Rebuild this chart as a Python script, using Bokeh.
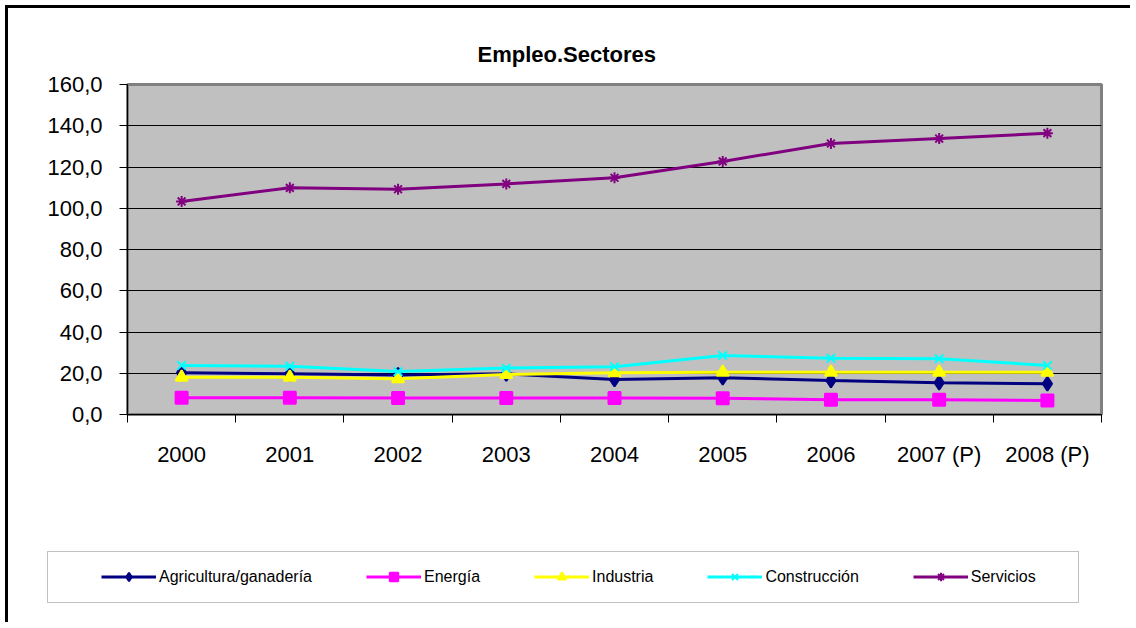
from bokeh.plotting import figure
from bokeh.models import FixedTicker, Legend, LegendItem, Range1d, BoxAnnotation
from bokeh.embed import file_html
from bokeh.resources import INLINE

FONT = "Liberation Sans"

# ---- data ----
years = ["2000", "2001", "2002", "2003", "2004", "2005", "2006", "2007 (P)", "2008 (P)"]
agricultura = [20.2, 19.7, 19.2, 19.7, 17.0, 17.8, 16.5, 15.4, 14.9]
energia = [8.1, 8.1, 8.0, 8.0, 8.0, 7.9, 7.1, 7.1, 6.8]
industria = [18.1, 18.1, 17.3, 19.4, 20.2, 20.5, 20.5, 20.5, 20.5]
construccion = [23.8, 23.4, 20.8, 22.5, 23.2, 28.6, 27.3, 27.0, 23.8]
servicios = [103.3, 109.9, 109.2, 111.8, 114.8, 122.7, 131.4, 133.8, 136.4]
y_ticks = [0, 20, 40, 60, 80, 100, 120, 140, 160]
y_tick_labels = ["0,0", "20,0", "40,0", "60,0", "80,0", "100,0", "120,0", "140,0", "160,0"]
title = "Empleo.Sectores"

xs = [i + 0.5 for i in range(len(years))]

series = [
    ("Agricultura/ganadería", agricultura, "#000080", "diamond", 14),
    ("Energía", energia, "#FF00FF", "square", 12),
    ("Industria", industria, "#FFFF00", "triangle", 12),
    ("Construcción", construccion, "#00FFFF", "x", 12),
    ("Servicios", servicios, "#800080", "asterisk", 11),
]

W = 1125
p = figure(width=W, height=500, output_backend="svg", toolbar_location=None,
           x_range=Range1d(0, len(years)), y_range=Range1d(0, y_ticks[-1]),
           min_border_left=119, min_border_right=32, min_border_top=76,
           min_border_bottom=94)
p.styles = {"border-left": "3px solid black", "border-top": "3px solid black",
            "margin-left": "5px", "margin-top": "5px"}
p.background_fill_color = "#C0C0C0"
p.border_fill_color = "white"
p.outline_line_color = "#808080"
p.outline_line_width = 3

p.title.text = title
p.title.align = "left"
p.title.offset = 350
p.title.standoff = 36
p.title.text_font = FONT
p.title.text_font_size = "22px"
p.title.text_font_style = "bold"
p.title.text_color = "black"

p.xgrid.visible = False
p.ygrid.grid_line_color = "black"
p.ygrid.grid_line_width = 1

# y axis
p.yaxis.ticker = FixedTicker(ticks=y_ticks)
p.yaxis.major_label_overrides = {t: l for t, l in zip(y_ticks, y_tick_labels)}
p.yaxis.major_label_text_font = FONT
p.yaxis.major_label_text_font_size = "22px"
p.yaxis.major_label_text_color = "black"
p.yaxis.major_tick_out = 8
p.yaxis.major_tick_in = 0
p.yaxis.major_label_standoff = 17
p.yaxis.minor_tick_line_color = None
p.yaxis.axis_line_color = "black"
p.yaxis.major_tick_line_color = "black"

# x axis
p.xaxis.ticker = FixedTicker(ticks=xs, minor_ticks=list(range(len(years) + 1)))
p.xaxis.major_label_overrides = {x: y for x, y in zip(xs, years)}
p.xaxis.major_label_text_font = FONT
p.xaxis.major_label_text_font_size = "22px"
p.xaxis.major_label_text_color = "black"
p.xaxis.major_tick_line_alpha = 0
p.xaxis.major_tick_out = 8
p.xaxis.major_tick_in = 0
p.xaxis.minor_tick_out = 8
p.xaxis.minor_tick_in = 0
p.xaxis.minor_tick_line_color = "black"
p.xaxis.major_label_standoff = 19
p.xaxis.axis_line_color = "black"

for name, vals, color, marker, size in series:
    p.line(xs, vals, line_color=color, line_width=3)
    p.scatter(xs, vals, marker=marker, size=size,
              fill_color=color, line_color=color, line_width=2)

# ---- legend strip (separate figure below the chart) ----
H2 = 117
q = figure(width=W, height=H2, output_backend="svg", toolbar_location=None,
           x_range=Range1d(100, 101), y_range=Range1d(1000, 1001),
           x_axis_location=None, y_axis_location=None,
           min_border_left=0, min_border_right=0, min_border_top=0, min_border_bottom=0)
q.styles = {"border-left": "3px solid black", "margin-left": "5px"}
q.grid.visible = False
q.outline_line_color = None
q.background_fill_color = "white"
q.border_fill_color = "white"

items = []
for name, vals, color, marker, size in series:
    lr = q.line(xs, vals, line_color=color, line_width=3)
    sr = q.scatter(xs, vals, marker=marker, size=size,
                   fill_color=color, line_color=color, line_width=2)
    items.append(LegendItem(label=name, renderers=[lr, sr]))

q.add_layout(BoxAnnotation(left=36, top=46, right=1067, bottom=97,
                           left_units="canvas", right_units="canvas",
                           top_units="canvas", bottom_units="canvas",
                           fill_color="white", fill_alpha=1,
                           line_color="#333333", line_width=1))

legend = Legend(items=items, orientation="horizontal", location=(78, 20),
                padding=15, margin=0, spacing=54, glyph_width=55, glyph_height=21,
                label_height=21, label_standoff=3,
                label_text_font=FONT, label_text_font_size="16px",
                label_text_color="black",
                border_line_alpha=0, background_fill_alpha=0)
q.add_layout(legend)

open("out.html", "w").write(file_html([p, q], INLINE))
